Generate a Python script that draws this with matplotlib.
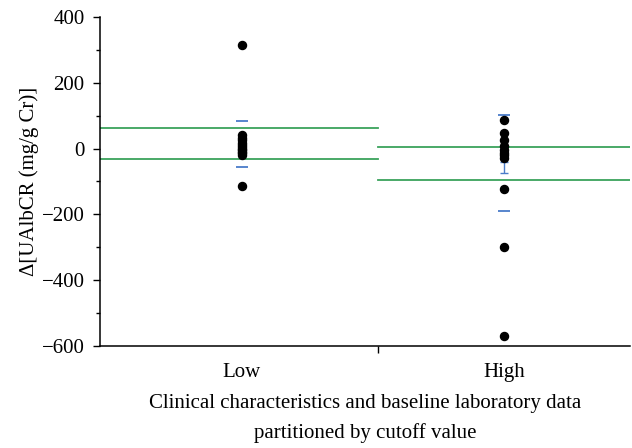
import numpy as np
import matplotlib.pyplot as plt

plt.rcParams['font.family'] = ['Liberation Serif', 'DejaVu Serif']

groups = ['Low', 'High']
low_vals = [314, 40, 32, 25, 18, 12, 6, 0, -5, -10, -15, -20, -115]
high_vals = [88, 47, 25, 7, -3, -13, -20, -28, -124, -300, -570]
green_low = [61, -33]
green_high = [5, -95]
blue_low = [84, -57]
blue_high = [102, -190]
high_err = [-41, -73]

fig = plt.figure(figsize=(6.32, 4.48), dpi=100)
ax = fig.add_axes([0.158, 0.228, 0.839, 0.734])

split = 1.52
for y in green_low:
    ax.plot([0.46, split], [y, y], color='#3aa35c', lw=1.3)
for y in green_high:
    ax.plot([split, 2.48], [y, y], color='#3aa35c', lw=1.3)

ax.plot([1, 1], blue_low, ls='none', marker='_', ms=9, mew=1.3, color='#4a7cc9')
ax.plot([2, 2], blue_high, ls='none', marker='_', ms=9, mew=1.3, color='#4a7cc9')
mid = sum(high_err) / 2
ax.errorbar([2], [mid], yerr=[[mid - high_err[1]], [high_err[0] - mid]],
            color='#4a7cc9', lw=1, capsize=3, capthick=1)

ax.plot([1] * len(low_vals), low_vals, 'o', color='black', ms=5.8)
ax.plot([2] * len(high_vals), high_vals, 'o', color='black', ms=5.8)

ax.set_xlim(0.46, 2.48)
ax.set_ylim(-600, 400)
ax.set_yticks([-600, -400, -200, 0, 200, 400])
ax.set_yticklabels(['\u2212600', '\u2212400', '\u2212200', '0', '200', '400'])
ax.set_yticks(np.arange(-500, 400, 200), minor=True)
ax.set_xticks([split])
ax.set_xticklabels([''])
ax.set_xticks([1, 2], minor=True)
ax.set_xticklabels(groups, minor=True)
ax.tick_params(axis='x', which='minor', length=0, pad=12)
ax.tick_params(axis='both', which='major', length=5, width=1, labelsize=15)
ax.tick_params(axis='y', which='major', pad=6)
ax.tick_params(axis='x', which='minor', labelsize=15)
ax.tick_params(axis='y', which='minor', length=3, width=1)

for s in ['top', 'right']:
    ax.spines[s].set_visible(False)
for s in ['left', 'bottom']:
    ax.spines[s].set_linewidth(1.1)

ax.set_ylabel('\u0394[UAlbCR (mg/g Cr)]', fontsize=15, labelpad=2)
ax.set_xlabel('Clinical characteristics and baseline laboratory data\npartitioned by cutoff value',
              fontsize=15, linespacing=1.65, labelpad=9)

fig.savefig('out.png', dpi=100)
